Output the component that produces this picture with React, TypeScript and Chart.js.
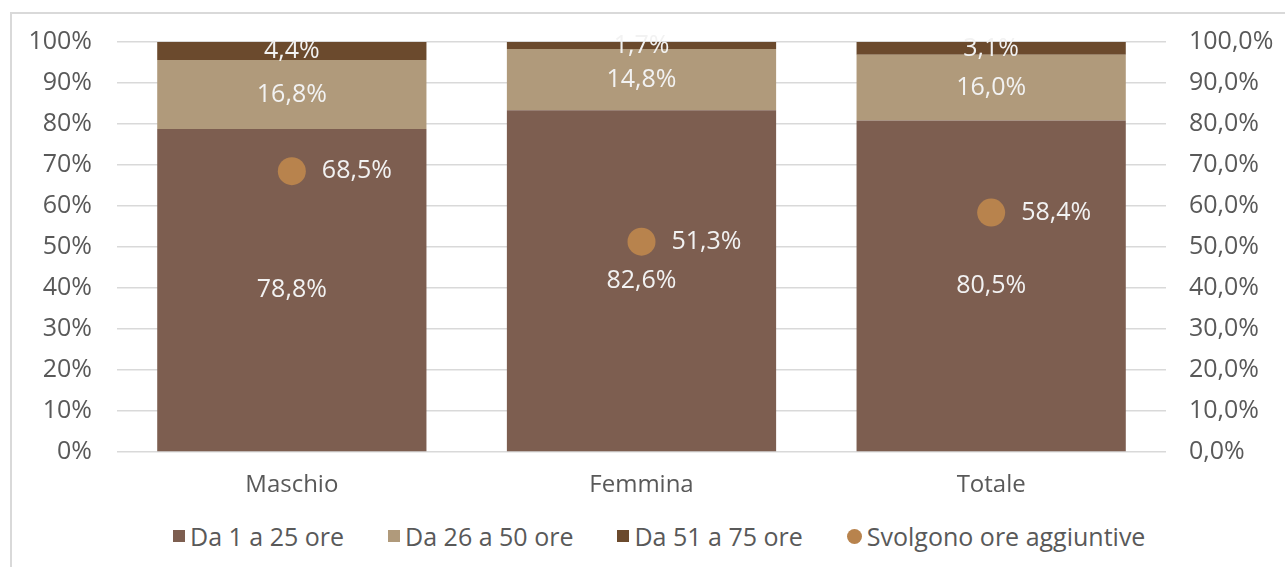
import React, { useEffect, useRef } from "react";
import { Chart, registerables } from "chart.js";

Chart.register(...registerables);

const categories = ["Maschio", "Femmina", "Totale"];
const da1a25 = [78.8, 82.6, 80.5];
const da26a50 = [16.8, 14.8, 16.0];
const da51a75 = [4.4, 1.7, 3.1];
const oreAggiuntive = [68.5, 51.3, 58.4];
const leftTicks = [0, 10, 20, 30, 40, 50, 60, 70, 80, 90, 100];

const seriesNames = ["Da 1 a 25 ore", "Da 26 a 50 ore", "Da 51 a 75 ore", "Svolgono ore aggiuntive"];
const colors = ["#7D5E50", "#B09A7B", "#6B4A2D", "#B8834D"];

const FONT = "'Open Sans', sans-serif";
const fmt = (v: number) => v.toFixed(1).replace(".", ",") + "%";

const totals = categories.map((_, i) => da1a25[i] + da26a50[i] + da51a75[i]);
const norm = (arr: number[]) => arr.map((v, i) => (v / totals[i]) * 100);

const labelPlugin = {
  id: "valueLabels",
  afterDatasetsDraw(chart: any) {
    const ctx = chart.ctx;
    ctx.save();
    ctx.font = `25px ${FONT}`;
    ctx.fillStyle = "#F2F2F2";
    ctx.textBaseline = "middle";
    chart.data.datasets.forEach((ds: any, di: number) => {
      const meta = chart.getDatasetMeta(di);
      meta.data.forEach((el: any, i: number) => {
        const raw = ds.rawValues[i];
        if (ds.type === "line") {
          ctx.textAlign = "left";
          ctx.fillText(fmt(raw), el.x + 30, el.y);
        } else {
          ctx.textAlign = "center";
          ctx.fillText(fmt(raw), el.x, (el.y + el.base) / 2);
        }
      });
    });
    ctx.restore();
  },
};

const noVPad = (w: number) => (s: any) => {
  s.width = w;
  s.paddingTop = 0;
  s.paddingBottom = 0;
};

export default function App() {
  const ref = useRef<HTMLCanvasElement>(null);
  useEffect(() => {
    if (!ref.current) return;
    const chart = new Chart(ref.current, {
      type: "bar",
      data: {
        labels: categories,
        datasets: [
          {
            type: "line",
            label: seriesNames[3],
            data: oreAggiuntive,
            rawValues: oreAggiuntive,
            yAxisID: "y2",
            showLine: false,
            pointRadius: 14,
            pointHoverRadius: 14,
            pointBackgroundColor: colors[3],
            pointBorderWidth: 0,
            backgroundColor: colors[3],
            borderColor: colors[3],
            order: 0,
          } as any,
          {
            type: "bar",
            label: seriesNames[0],
            data: norm(da1a25),
            rawValues: da1a25,
            backgroundColor: colors[0],
            yAxisID: "y",
            order: 1,
          } as any,
          {
            type: "bar",
            label: seriesNames[1],
            data: norm(da26a50),
            rawValues: da26a50,
            backgroundColor: colors[1],
            yAxisID: "y",
            order: 1,
          } as any,
          {
            type: "bar",
            label: seriesNames[2],
            data: norm(da51a75),
            rawValues: da51a75,
            backgroundColor: colors[2],
            yAxisID: "y",
            order: 1,
          } as any,
        ],
      },
      options: {
        animation: false,
        responsive: false,
        maintainAspectRatio: false,
        layout: { autoPadding: false, padding: { top: 28, left: 0, right: 0, bottom: 0 } },
        datasets: { bar: { categoryPercentage: 1, barPercentage: 0.77 } },
        plugins: { legend: { display: false }, tooltip: { enabled: false } },
        scales: {
          x: {
            stacked: true,
            grid: { display: false, drawTicks: false },
            border: { display: false },
            ticks: { color: "#595959", font: { family: FONT, size: 24 }, padding: 19 },
            afterFit: (s: any) => { s.height = 62; s.paddingLeft = 0; s.paddingRight = 0; },
          },
          y: {
            stacked: true,
            position: "left",
            min: 0,
            max: 100,
            afterBuildTicks: (s: any) => { s.ticks = leftTicks.map((v) => ({ value: v })); },
            grid: { color: "#D9D9D9", lineWidth: 1.5, drawTicks: false },
            border: { display: false },
            ticks: {
              color: "#595959",
              font: { family: FONT, size: 25 },
              padding: 25,
              callback: (v: any) => v + "%",
            },
            afterFit: noVPad(105),
          },
          y2: {
            position: "right",
            min: 0,
            max: 100,
            afterBuildTicks: (s: any) => { s.ticks = leftTicks.map((v) => ({ value: v })); },
            grid: { display: false, drawTicks: false },
            border: { display: false },
            ticks: {
              color: "#595959",
              font: { family: FONT, size: 25 },
              padding: 23,
              callback: (v: any) => fmt(Number(v)),
            },
            afterFit: noVPad(119),
          },
        },
      } as any,
      plugins: [labelPlugin],
    });
    return () => chart.destroy();
  }, []);

  const legendItem = (i: number) => (
    <div key={i} style={{ display: "flex", alignItems: "center", marginRight: i < 3 ? 44 : 0 }}>
      <span
        style={{
          display: "inline-block",
          width: i === 3 ? 15 : 12,
          height: i === 3 ? 15 : 12,
          borderRadius: i === 3 ? "50%" : 0,
          background: colors[i],
          marginRight: 5,
        }}
      />
      <span>{seriesNames[i]}</span>
    </div>
  );

  return (
    <div
      style={{
        position: "absolute",
        left: 10,
        top: 12,
        width: 1290,
        height: 570,
        borderLeft: "2px solid #D9D9D9",
        borderTop: "2px solid #D9D9D9",
        boxSizing: "border-box",
        background: "#FFFFFF",
        overflow: "hidden",
      }}
    >
      <canvas ref={ref} width={1273} height={500} style={{ position: "absolute", left: 0, top: 0, display: "block" }} />
      <div
        style={{
          position: "absolute",
          left: 161,
          top: 507,
          display: "flex",
          alignItems: "center",
          fontFamily: FONT,
          fontSize: 25,
          color: "#595959",
          whiteSpace: "nowrap",
          lineHeight: "30px",
        }}
      >
        {[0, 1, 2, 3].map(legendItem)}
      </div>
    </div>
  );
}
